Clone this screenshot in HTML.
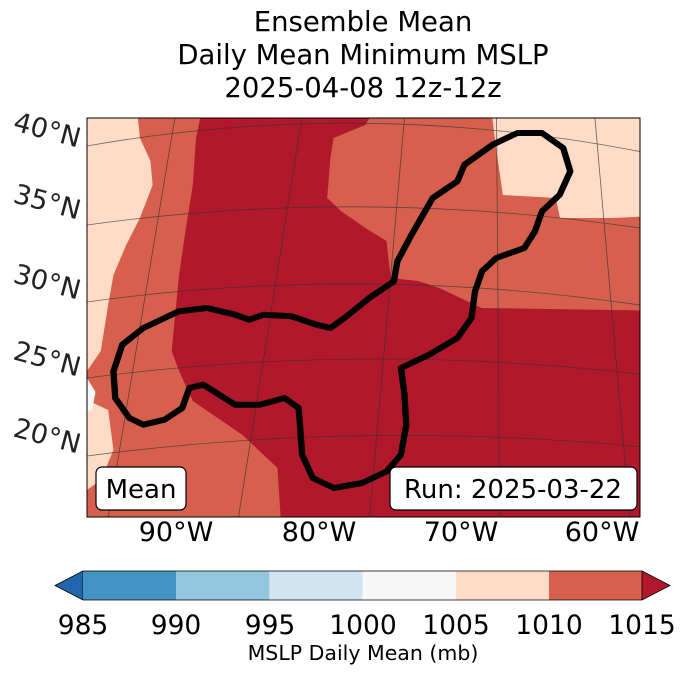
<!DOCTYPE html>
<html><head><meta charset="utf-8"><style>
body{margin:0;background:#fff;width:688px;height:674px;overflow:hidden;font-family:"Liberation Sans","DejaVu Sans",sans-serif}
</style></head><body>
<svg width="688" height="674" xmlns="http://www.w3.org/2000/svg" font-family="DejaVu Sans, Liberation Sans, sans-serif">
<g font-size="27.5" text-anchor="middle" fill="#000">
<text x="363" y="31">Ensemble Mean</text>
<text x="363" y="64">Daily Mean Minimum MSLP</text>
<text x="363" y="97">2025-04-08 12z-12z</text>
</g>
<defs><clipPath id="mc"><rect x="87" y="118" width="553" height="399"/></clipPath></defs>
<g clip-path="url(#mc)">
<rect x="87" y="118" width="553" height="399" fill="#d6604d"/>
<g transform="translate(87,0) scale(1.0582,1) translate(-87,0)">
<polygon fill="#fddbc7" points="87,118 135,118 137,138 147,161 149,185 137,218 124,245 112,275 107,305 100,351 87,371"/>
<polygon fill="#fddbc7" points="87,400 107,410 112,450 100,480 87,490"/>
<polygon fill="#f7f7f7" points="87,378 95,392 92,410 87,412"/>
<polygon fill="#fddbc7" points="470,118 640,118 640,215 584,218 534,218 530,198 480,195 474,151"/>
<polygon fill="#b2182b" points="194,118 354,118 350,125 320,138 317,158 314,198 327,211 350,228 370,241 374,278 400,281 420,288 440,298 460,308 640,311 640,517 270,518 267,468 234,435 187,401 174,371 167,351 170,318 174,275 180,231 187,185 190,138"/>
<g stroke="#333" stroke-width="0.8" fill="none" opacity="0.7">
<path d="M87,146 Q360,95 640,158"/>
<path d="M87,225 Q360,185 640,233"/>
<path d="M87,302 Q360,262 640,310"/>
<path d="M87,378 Q360,340 640,378"/>
<path d="M87,456 Q360,418 640,450"/>
<path d="M170,118 L107,518"/>
<path d="M290,118 L230,518"/>
<path d="M387,118 L354,518"/>
<path d="M474,118 L477,518"/>
<path d="M567,118 L600,518"/>
</g>
<path fill="none" stroke="#000" stroke-width="6" stroke-linejoin="round" d="M113.7,398 L112,371.3 120.3,344.7 140.3,328 173.7,311.3 200.3,308 227,314.7 240.3,319.7 253.7,314.7 280.3,316.3 303.7,324.7 317,328 330.3,318 353.7,298 377,281.3 380.3,261.3 393.7,234.7 413.7,198 437,181.3 443.7,164.7 470.3,144.7 493.7,133 517,133 537,148 543.7,171.3 533.7,194.7 517,211.3 510.3,231.3 500.3,248 473.7,258 460.3,271.3 453.7,291.3 450.3,318 437,338 410.3,354.7 383.7,368 387,394.7 388.7,424.7 383.7,454.7 370.3,471.3 347,483 320.3,488 300.3,478 290.3,454.7 288.7,431.3 287,408 273.7,398 250.3,404.7 227,404.7 197,384.7 183.7,388 177,408 160.3,419.7 140.3,424.7 127,418 Z"/>
</g>
</g>
<rect x="87" y="118" width="553" height="399" fill="none" stroke="#000" stroke-width="1"/>
<g>
<rect x="96" y="467" width="90" height="43" rx="6" fill="#fff" stroke="#000" stroke-width="1.2"/>
<text x="141" y="498" font-size="26" text-anchor="middle">Mean</text>
</g>
<g>
<rect x="390" y="467" width="247" height="43" rx="6" fill="#fff" stroke="#000" stroke-width="1.2"/>
<text x="513" y="498" font-size="26" text-anchor="middle">Run: 2025-03-22</text>
</g>
<g font-size="27" fill="#222">
<text transform="translate(12,130) rotate(15)">40°N</text>
<text transform="translate(12,202) rotate(15)">35°N</text>
<text transform="translate(12,282) rotate(15)">30°N</text>
<text transform="translate(12,359) rotate(15)">25°N</text>
<text transform="translate(12,436) rotate(15)">20°N</text>
</g>
<g font-size="27" text-anchor="middle">
<text x="176" y="541">90°W</text>
<text x="319" y="541">80°W</text>
<text x="461" y="541">70°W</text>
<text x="602" y="541">60°W</text>
</g>
<g stroke="#000" stroke-width="0.8">
<polygon points="83,571 55,585.5 83,600" fill="#2166ac"/>
<rect x="83" y="571" width="93.2" height="29" fill="#4393c3" stroke="none"/>
<rect x="176.2" y="571" width="93.2" height="29" fill="#92c5de" stroke="none"/>
<rect x="269.4" y="571" width="93.2" height="29" fill="#d1e5f0" stroke="none"/>
<rect x="362.6" y="571" width="93.2" height="29" fill="#f7f7f7" stroke="none"/>
<rect x="455.8" y="571" width="93.2" height="29" fill="#fddbc7" stroke="none"/>
<rect x="549" y="571" width="93" height="29" fill="#d6604d" stroke="none"/>
<polygon points="642,571 670,585.5 642,600" fill="#b2182b"/>
<polyline points="83,571 642,571" fill="none"/>
<polyline points="83,600 642,600" fill="none"/>
</g>
<g font-size="26.5" text-anchor="middle">
<text x="83" y="634">985</text>
<text x="176" y="634">990</text>
<text x="270" y="634">995</text>
<text x="363" y="634">1000</text>
<text x="456" y="634">1005</text>
<text x="549" y="634">1010</text>
<text x="642" y="634">1015</text>
</g>
<text x="363" y="660" font-size="20.5" text-anchor="middle">MSLP Daily Mean (mb)</text>
</svg>
</body></html>
